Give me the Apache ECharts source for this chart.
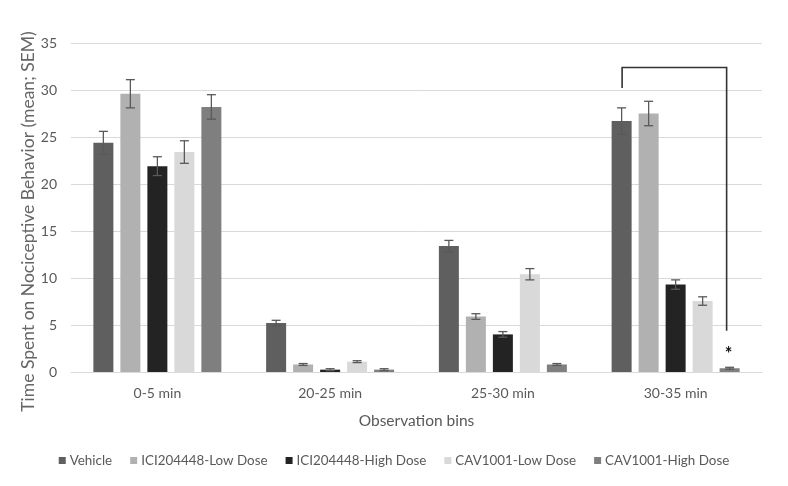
<!DOCTYPE html>
<html><head><meta charset="utf-8">
<script src="https://cdn.jsdelivr.net/npm/echarts@6/dist/echarts.min.js"></script>
<style>html,body{margin:0;padding:0;background:#fff}#c{width:788px;height:486px}</style>
</head><body><div id="c"></div>
<script>
const categories = ['0-5 min', '20-25 min', '25-30 min', '30-35 min'];
const seriesNames = ['Vehicle', 'ICI204448-Low Dose', 'ICI204448-High Dose', 'CAV1001-Low Dose', 'CAV1001-High Dose'];
const vehicle    = [24.4, 5.2, 13.4, 26.7];
const iciLow     = [29.6, 0.8, 5.9, 27.5];
const iciHigh    = [21.9, 0.25, 4.0, 9.3];
const cavLow     = [23.4, 1.1, 10.4, 7.55];
const cavHigh    = [28.2, 0.25, 0.8, 0.4];
const vehicleErr = [1.2, 0.3, 0.6, 1.4];
const iciLowErr  = [1.5, 0.1, 0.3, 1.3];
const iciHighErr = [1.0, 0.1, 0.3, 0.5];
const cavLowErr  = [1.2, 0.1, 0.6, 0.45];
const cavHighErr = [1.3, 0.1, 0.1, 0.1];
const yTicks = [0, 5, 10, 15, 20, 25, 30, 35];

const values = [vehicle, iciLow, iciHigh, cavLow, cavHigh];
const errs = [vehicleErr, iciLowErr, iciHighErr, cavLowErr, cavHighErr];
const colors = ['#5f5f5f', '#b1b1b1', '#232323', '#d9d9d9', '#7f7f7f'];
const offsets = [-54, -27, 0, 27, 54];
const FONT = 'Lato';

const series = [];
values.forEach((v, i) => {
  series.push({
    name: seriesNames[i], type: 'bar', data: v, barWidth: 20, barGap: '35%',
    itemStyle: { color: colors[i] }, z: 2
  });
});
values.forEach((v, i) => {
  series.push({
    type: 'custom', z: 5, silent: true,
    data: v.map((val, k) => [k, val, errs[i][k]]),
    renderItem: function (params, api) {
      const k = api.value(0), val = api.value(1), e = api.value(2);
      const top = api.coord([k, val + e]);
      const bot = api.coord([k, val - e]);
      const x = top[0] + offsets[i];
      const hw = 4.5;
      const st = { stroke: '#595959', lineWidth: 1.3 };
      return { type: 'group', children: [
        { type: 'line', shape: { x1: x, y1: top[1], x2: x, y2: bot[1] }, style: st },
        { type: 'line', shape: { x1: x - hw, y1: top[1], x2: x + hw, y2: top[1] }, style: st },
        { type: 'line', shape: { x1: x - hw, y1: bot[1], x2: x + hw, y2: bot[1] }, style: st }
      ]};
    }
  });
});
// significance bracket
series.push({
  type: 'custom', z: 6, silent: true,
  data: [[3, 32.4, 30.2, 4.4, 2.1]],
  renderItem: function (params, api) {
    const k = api.value(0);
    const pTop = api.coord([k, api.value(1)]);
    const pL = api.coord([k, api.value(2)]);
    const pR = api.coord([k, api.value(3)]);
    const pS = api.coord([k, api.value(4)]);
    const xl = pTop[0] - 53.5, xr = pTop[0] + 51;
    const st = { stroke: '#333333', lineWidth: 1.6 };
    return { type: 'group', children: [
      { type: 'polyline', shape: { points: [[xl, pL[1]], [xl, pTop[1]], [xr, pTop[1]], [xr, pR[1]]] }, style: Object.assign({ fill: null }, st) },
      { type: 'text', style: { x: pTop[0] + 53, y: pS[1] + 2, text: '*', fill: '#111', font: 'bold 18px ' + FONT, align: 'center', verticalAlign: 'middle' } }
    ]};
  }
});

const chart = echarts.init(document.getElementById('c'), null, { renderer: 'canvas' });
chart.setOption({
  animation: false,
  textStyle: { fontFamily: FONT },
  grid: { left: 71, right: 26, top: 43, bottom: 114, containLabel: false },
  legend: {
    data: seriesNames, bottom: 14, left: 'center', icon: 'rect', itemWidth: 7, itemHeight: 7, itemGap: 18,
    textStyle: { color: '#595959', fontSize: 13.4, fontFamily: FONT, padding: [0, 0, 0, -1] }
  },
  xAxis: {
    type: 'category', data: categories,
    name: 'Observation bins', nameLocation: 'middle', nameGap: 41,
    nameTextStyle: { color: '#595959', fontSize: 15.5, fontFamily: FONT },
    axisLine: { lineStyle: { color: '#d9d9d9', width: 1 } },
    axisTick: { show: false },
    axisLabel: { color: '#595959', fontSize: 14, margin: 14, fontFamily: FONT }
  },
  yAxis: {
    type: 'value', min: yTicks[0], max: yTicks[yTicks.length - 1], interval: 5,
    name: 'Time Spent on Nociceptive Behavior (mean; SEM)', nameLocation: 'middle', nameGap: 43,
    nameMoveOverlap: false,
    nameTextStyle: { color: '#666666', fontSize: 17.5, fontFamily: FONT, padding: [0, 28, 0, 0], verticalAlign: 'middle' },
    axisLine: { show: false }, axisTick: { show: false },
    axisLabel: { color: '#595959', fontSize: 14, margin: 14, fontFamily: FONT },
    splitLine: { lineStyle: { color: '#d9d9d9', width: 1 } }
  },
  series: series
});
</script></body></html>
